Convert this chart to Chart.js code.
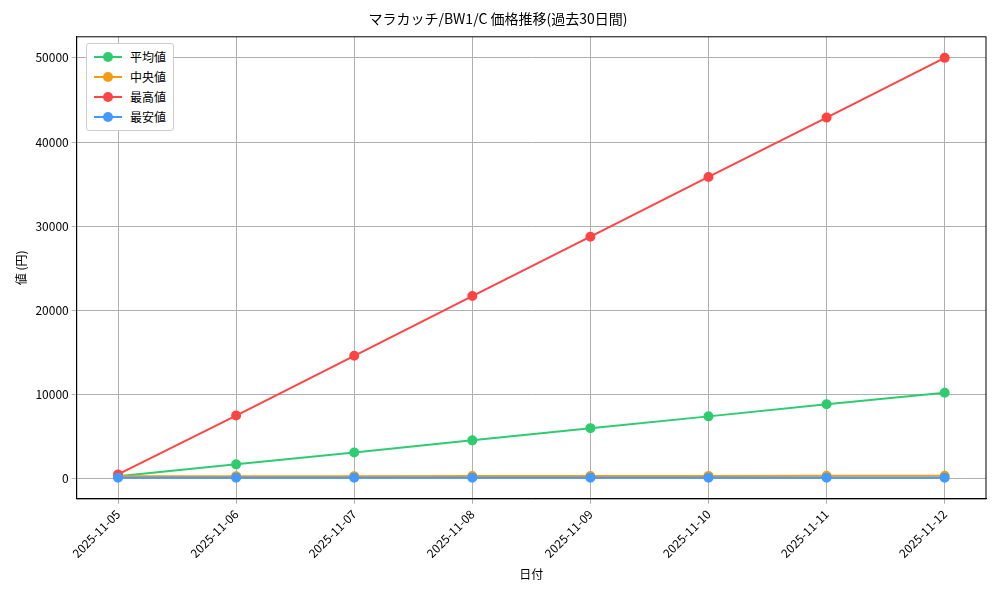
<!DOCTYPE html>
<html><head><meta charset="utf-8">
<script src="https://cdn.jsdelivr.net/npm/chart.js@4"></script>
<style>
html,body{margin:0;padding:0;background:#fff;}
#wrap{position:relative;width:1000px;height:600px;}
#legend{position:absolute;left:86px;top:43px;border:1px solid #ccc;border-radius:3px;background:#fff;padding:3px 7px;font:12px "Noto Sans CJK JP";line-height:20px;}
#legend div{display:flex;align-items:center;}
#legend span.m{position:relative;width:28px;height:2px;margin-right:8px;display:inline-block;}
#legend span.m i{position:absolute;left:9px;top:-4px;width:10px;height:10px;border-radius:50%;}
</style></head><body>
<div id="wrap"><canvas id="c" width="1000" height="600"></canvas><div id="legend"></div></div>
<script>
const dates=["2025-11-05","2025-11-06","2025-11-07","2025-11-08","2025-11-09","2025-11-10","2025-11-11","2025-11-12"];
const avgVals=[300,1700,3100,4550,6000,7400,8850,10200];
const medVals=[280,300,300,310,310,330,340,350];
const maxVals=[500,7500,14600,21700,28750,35850,42900,50000];
const minVals=[120,120,120,120,120,120,120,120];
const yTicks=[0,10000,20000,30000,40000,50000];
const names=["平均値","中央値","最高値","最安値"];
const colors=["#2ecc71","#f39c12","#ff4444","#4499ff"];
const F='"Noto Sans CJK JP"';
const mk=(i,d,o)=>({label:names[i],data:d.map((v,k)=>({x:k,y:v})),order:o,borderColor:colors[i],backgroundColor:colors[i],pointRadius:4,pointHoverRadius:4,borderWidth:2,tension:0});
const box={id:'box',afterDraw(c){const a=c.chartArea,x=c.ctx;x.save();x.strokeStyle='#000';x.lineWidth=1;x.strokeRect(a.left,a.top,a.right-a.left,a.bottom-a.top);x.restore();}};
new Chart(document.getElementById('c'),{type:'line',
data:{datasets:[mk(0,avgVals,4),mk(1,medVals,3),mk(2,maxVals,2),mk(3,minVals,1)]},
plugins:[box],
options:{responsive:false,animation:false,
layout:{padding:{left:10,right:14,top:4,bottom:14}},
plugins:{legend:{display:false},title:{display:true,text:"マラカッチ/BW1/C 価格推移(過去30日間)",color:'#000',font:{family:F,size:14,weight:'normal'},padding:{top:6,bottom:10}}},
scales:{
x:{type:'linear',min:-0.35,max:7.35,afterBuildTicks:a=>{a.ticks=dates.map((d,k)=>({value:k}));},grid:{color:'#b0b0b0',tickLength:5},border:{color:'#000'},ticks:{color:'#000',maxRotation:45,minRotation:45,font:{family:F,size:12},callback:v=>dates[v]},title:{display:true,text:'日付',color:'#000',font:{family:F,size:12}}},
y:{min:-2400,max:52500,afterBuildTicks:a=>{a.ticks=yTicks.map(v=>({value:v}));},grid:{color:'#b0b0b0',tickLength:5},border:{color:'#000'},ticks:{color:'#000',font:{family:F,size:12},callback:v=>String(v)},title:{display:true,text:'値 (円)',color:'#000',font:{family:F,size:12}}}
}}});
const lg=document.getElementById('legend');
names.forEach((n,i)=>{lg.innerHTML+=`<div><span class="m" style="background:${colors[i]}"><i style="background:${colors[i]}"></i></span>${n}</div>`;});
</script></body></html>
